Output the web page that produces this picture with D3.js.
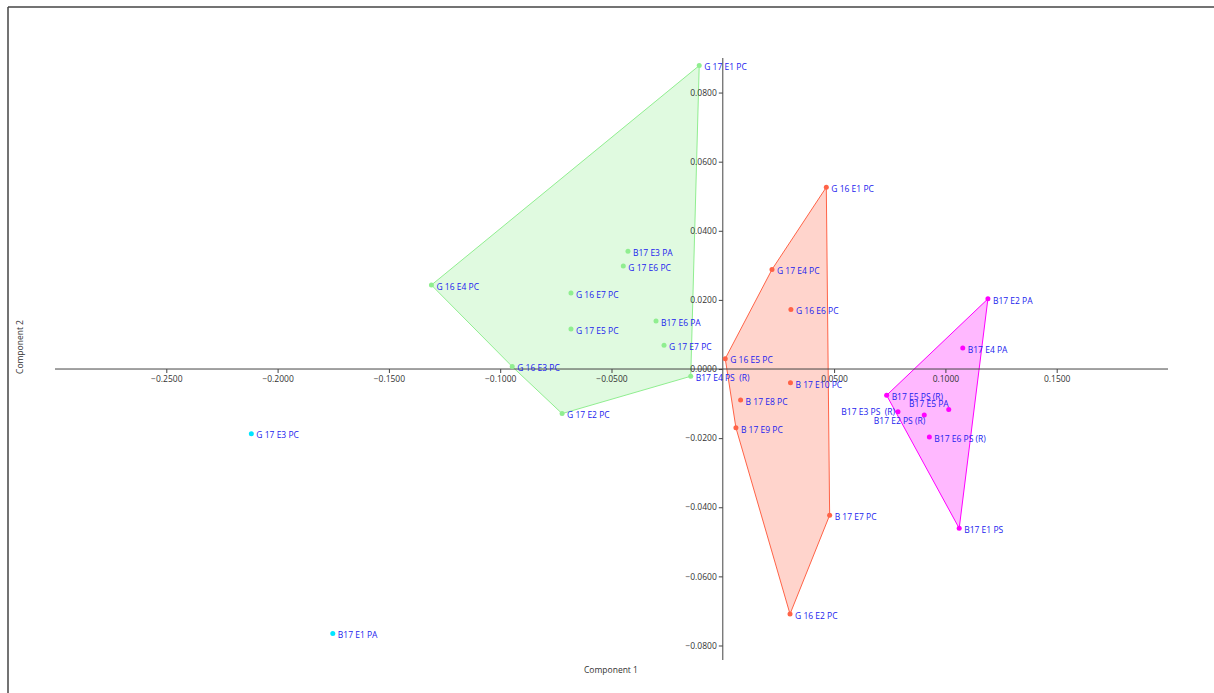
<!DOCTYPE html>
<html>
<head>
<meta charset="utf-8">
<script src="https://cdn.jsdelivr.net/npm/d3@7"></script>
<style>
  html, body { margin: 0; padding: 0; background: #fff; }
  svg { display: block; }
  text { font-family: "Open Sans", "Segoe UI", sans-serif; }
</style>
</head>
<body>
<svg id="chart" width="1214" height="693"></svg>
<script>
// ---- data ----
const greenNames = ["G 17 E1 PC", "B17 E3 PA", "G 17 E6 PC", "G 16 E4 PC", "G 16 E7 PC", "B17 E6 PA", "G 17 E5 PC", "G 17 E7 PC", "G 16 E3 PC", "B17 E4 PS  (R)", "G 17 E2 PC"];
const greenX = [-0.0106, -0.0426, -0.0447, -0.1309, -0.0682, -0.0300, -0.0682, -0.0264, -0.0946, -0.0144, -0.0722];
const greenY = [0.0878, 0.0341, 0.0298, 0.0243, 0.0220, 0.0139, 0.0116, 0.0069, 0.0007, -0.0021, -0.0129];

const redNames = ["G 16 E1 PC", "G 17 E4 PC", "G 16 E6 PC", "G 16 E5 PC", "B 17 E10 PC", "B 17 E8 PC", "B 17 E9 PC", "B 17 E7 PC", "G 16 E2 PC"];
const redX = [0.0465, 0.0221, 0.0306, 0.0011, 0.0304, 0.0080, 0.0059, 0.0480, 0.0302];
const redY = [0.0526, 0.0288, 0.0172, 0.0030, -0.0040, -0.0090, -0.0170, -0.0423, -0.0709];

const magentaNames = ["B17 E2 PA", "B17 E4 PA", "B17 E5 PS (R)", "B17 E3 PS  (R)", "B17 E2 PS (R)", "B17 E5 PA", "B17 E6 PS (R)", "B17 E1 PS"];
const magentaX = [0.1191, 0.1078, 0.0736, 0.0787, 0.0905, 0.1015, 0.0928, 0.1062];
const magentaY = [0.0203, 0.0061, -0.0076, -0.0124, -0.0133, -0.0117, -0.0197, -0.0461];

const cyanNames = ["G 17 E3 PC", "B17 E1 PA"];
const cyanX = [-0.2118, -0.1752];
const cyanY = [-0.0187, -0.0765];

const xTicks = [-0.25, -0.2, -0.15, -0.1, -0.05, 0.05, 0.1, 0.15];
const yTicks = [-0.08, -0.06, -0.04, -0.02, 0, 0.02, 0.04, 0.06, 0.08];
const xTitle = "Component 1";
const yTitle = "Component 2";

// label placement overrides (layout only)
const labelLeft = { "B17 E3 PS  (R)": [-3, 1], "B17 E2 PS (R)": [1, 7], "B17 E5 PA": [0, -5] };

// ---- drawing ----
const svg = d3.select("#chart");
const x = d3.scaleLinear().domain([-0.3, 0.2]).range([55, 1168]);
const y = d3.scaleLinear().domain([-0.0842, 0.09]).range([660, 58]);

// frame
svg.append("line").attr("x1", 8).attr("x2", 1214).attr("y1", 7).attr("y2", 7)
  .attr("stroke", "#444").attr("stroke-width", 1.5);
svg.append("line").attr("x1", 8).attr("x2", 8).attr("y1", 7).attr("y2", 693)
  .attr("stroke", "#444").attr("stroke-width", 1.5);

const groups = [
  { names: greenNames, xs: greenX, ys: greenY, color: "#90EE90", fill: "#90EE90", hull: true },
  { names: redNames, xs: redX, ys: redY, color: "#FF6347", fill: "#FF6347", hull: true },
  { names: magentaNames, xs: magentaX, ys: magentaY, color: "#FF00FF", fill: "#FF00FF", hull: true },
  { names: cyanNames, xs: cyanX, ys: cyanY, color: "#00E5FF", fill: "#00E5FF", hull: false }
];

// hulls
groups.forEach(g => {
  if (!g.hull) return;
  const pts = g.xs.map((v, i) => [x(v), y(g.ys[i])]);
  const hull = d3.polygonHull(pts);
  svg.append("path")
    .attr("d", "M" + hull.map(p => p.join(",")).join("L") + "Z")
    .attr("fill", g.fill).attr("fill-opacity", 0.28)
    .attr("stroke", g.color).attr("stroke-width", 1);
});

// axes
const xAxis = d3.axisBottom(x).tickValues(xTicks).tickFormat(d3.format(".4f")).tickSize(4).tickPadding(3);
const gx = svg.append("g").attr("transform", `translate(0,${y(0)})`).call(xAxis);
const yAxis = d3.axisLeft(y).tickValues(yTicks).tickFormat(d3.format(".4f")).tickSize(4).tickPadding(2);
const gy = svg.append("g").attr("transform", `translate(${x(0)},0)`).call(yAxis);
[gx, gy].forEach(g => {
  g.select(".domain").attr("stroke", "#444").attr("stroke-width", 1);
  g.selectAll(".tick line").attr("stroke", "#444");
  g.selectAll(".tick text").attr("fill", "#333").style("font-size", "8.5px")
    .style("font-family", "'Open Sans', sans-serif");
});
gx.select(".domain").attr("d", `M${x.range()[0]},0H${x.range()[1]}`);
gy.select(".domain").attr("d", `M0,${y.range()[0]}V${y.range()[1]}`);

// points and labels
groups.forEach(g => {
  g.names.forEach((name, i) => {
    const px = x(g.xs[i]), py = y(g.ys[i]);
    svg.append("circle").attr("cx", px).attr("cy", py).attr("r", 2.5).attr("fill", g.color);
    const t = svg.append("text").text(name)
      .attr("fill", "#2222EE").style("font-size", "8.5px")
      .attr("dominant-baseline", "middle").style("white-space", "pre");
    if (labelLeft[name]) {
      const o = labelLeft[name];
      t.attr("x", px + o[0]).attr("y", py + o[1]).attr("text-anchor", "end");
    } else {
      t.attr("x", px + 5).attr("y", py + 2.5);
    }
  });
});

// axis titles
svg.append("text").text(xTitle).attr("x", 611).attr("y", 671)
  .attr("text-anchor", "middle").attr("dominant-baseline", "middle")
  .attr("fill", "#333").style("font-size", "8.5px");
svg.append("text").text(yTitle)
  .attr("transform", "translate(21,347) rotate(-90)")
  .attr("text-anchor", "middle").attr("dominant-baseline", "middle")
  .attr("fill", "#333").style("font-size", "8.5px");
</script>
</body>
</html>
